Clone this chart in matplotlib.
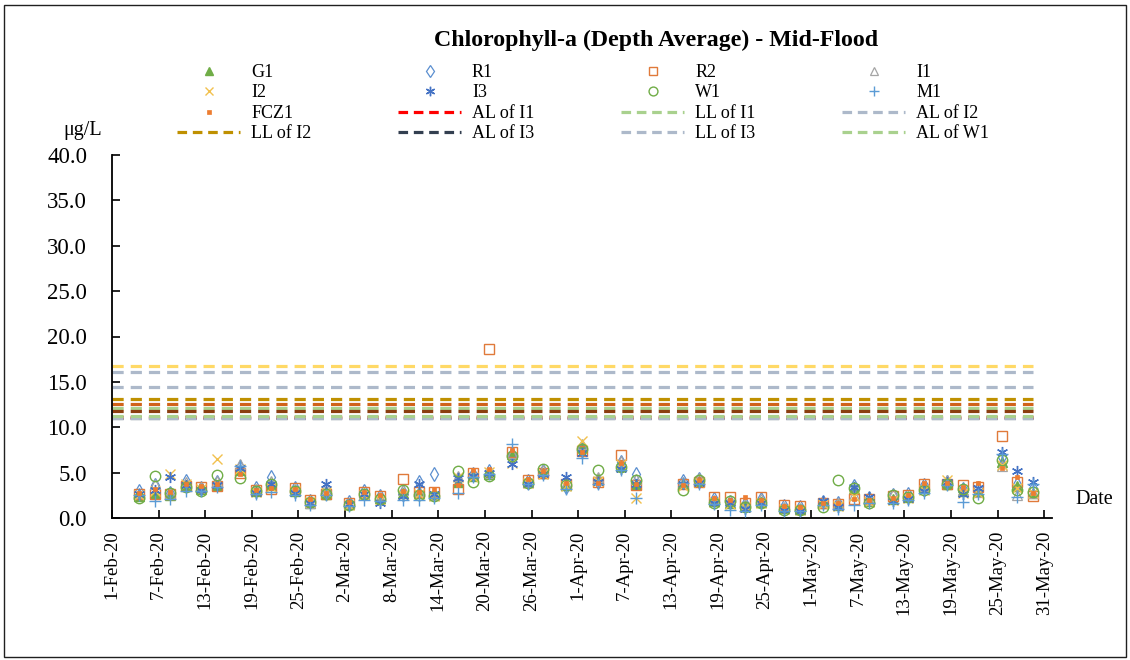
import matplotlib
matplotlib.use('Agg')
import matplotlib.pyplot as plt
import pandas as pd
from matplotlib.lines import Line2D
from matplotlib.patches import Rectangle

plt.rcParams['font.family'] = ['Liberation Serif', 'DejaVu Serif']

# ---------------- data ----------------
sample_dates = [
    "2020-02-04", "2020-02-06", "2020-02-08", "2020-02-10", "2020-02-12", "2020-02-14",
    "2020-02-17", "2020-02-19", "2020-02-21", "2020-02-24", "2020-02-26", "2020-02-28",
    "2020-03-02", "2020-03-04", "2020-03-06", "2020-03-09", "2020-03-11", "2020-03-13",
    "2020-03-16", "2020-03-18", "2020-03-20", "2020-03-23", "2020-03-25", "2020-03-27",
    "2020-03-30", "2020-04-01", "2020-04-03", "2020-04-06", "2020-04-08", "2020-04-14",
    "2020-04-16", "2020-04-18", "2020-04-20", "2020-04-22", "2020-04-24", "2020-04-27",
    "2020-04-29", "2020-05-02", "2020-05-04", "2020-05-06", "2020-05-08", "2020-05-11",
    "2020-05-13", "2020-05-15", "2020-05-18", "2020-05-20", "2020-05-22", "2020-05-25",
    "2020-05-27", "2020-05-29",
]
sample_time = "12:00"

G1 = [2.4, 2.8, 2.5, 3.6, 3.2, 3.6, 5.3, 3.0, 3.6, 3.0, 1.7, 2.6, 1.5, 2.6, 2.2, 2.7, 2.7, 2.6,
      4.0, 4.6, 4.9, 7.0, 4.0, 5.0, 3.6, 7.8, 4.3, 5.7, 3.8, 3.9, 4.1, 1.9, 1.6, 1.3, 1.8, 1.1,
      1.0, 1.6, 1.4, 3.2, 1.9, 2.1, 2.3, 3.3, 3.8, 3.0, 3.0, 6.2, 3.5, 2.8]
R1 = [3.0, 3.6, 2.8, 4.1, 3.3, 4.0, 5.6, 3.3, 4.5, 3.3, 1.9, 2.8, 1.8, 3.0, 2.4, 2.9, 4.0, 4.8,
      4.2, 4.9, 5.2, 7.1, 4.1, 5.2, 3.4, 7.6, 4.0, 6.2, 4.9, 4.1, 4.3, 2.1, 1.8, 1.5, 2.1, 1.3,
      1.2, 1.8, 1.6, 3.5, 2.2, 2.5, 2.6, 3.6, 4.0, 3.2, 3.3, 6.7, 3.7, 3.3]
R2 = [2.6, 2.6, 2.6, 3.5, 3.4, 3.5, 5.0, 3.1, 3.2, 3.3, 2.0, 2.6, 1.6, 2.9, 2.4, 4.3, 2.9, 2.9,
      3.2, 5.0, 18.6, 7.3, 4.2, 5.0, 3.8, 7.4, 4.0, 6.9, 3.6, 3.7, 4.0, 2.3, 2.3, 1.6, 2.3, 1.4,
      1.3, 1.7, 1.5, 2.1, 2.1, 2.4, 2.5, 3.7, 3.8, 3.6, 3.4, 9.0, 4.0, 2.4]
I1 = [2.8, 3.8, 2.7, 4.0, 3.4, 4.1, 6.0, 3.2, 4.1, 3.2, 1.6, 3.4, 1.6, 2.8, 2.3, 3.1, 3.0, 2.5,
      4.6, 4.8, 5.0, 7.2, 4.0, 5.3, 3.7, 8.2, 4.5, 6.3, 4.3, 4.0, 4.4, 2.0, 2.0, 1.5, 2.1, 1.2,
      1.1, 1.8, 1.6, 2.5, 2.0, 2.6, 2.4, 3.5, 4.2, 3.1, 2.9, 5.7, 2.5, 2.7]
I2 = [2.5, 3.0, 4.8, 3.7, 3.2, 6.5, 5.4, 2.9, 3.4, 3.0, 1.8, 2.9, 1.4, 2.5, 2.0, 2.5, 2.6, 2.4,
      4.5, 4.5, 5.1, 6.1, 3.9, 4.9, 3.5, 8.5, 4.1, 5.9, 2.2, 3.5, 4.0, 1.8, 1.5, 1.2, 1.7, 1.0,
      0.9, 1.5, 1.3, 2.4, 1.8, 2.0, 2.2, 3.1, 4.2, 2.8, 2.7, 5.8, 3.3, 2.8]
I3 = [2.6, 3.1, 4.5, 3.6, 3.1, 3.6, 5.5, 2.8, 3.8, 2.8, 1.6, 3.7, 1.5, 2.6, 1.7, 2.4, 3.7, 2.6,
      4.4, 4.6, 5.0, 6.0, 3.8, 4.8, 4.5, 7.2, 4.0, 5.4, 3.7, 3.8, 3.9, 1.6, 1.7, 1.0, 1.6, 0.9,
      0.8, 1.9, 1.2, 3.4, 2.3, 1.9, 2.1, 3.0, 4.0, 2.6, 3.3, 7.3, 5.2, 4.0]
W1 = [2.2, 4.6, 2.7, 3.4, 3.0, 4.7, 4.4, 3.0, 3.8, 3.0, 1.8, 2.6, 1.4, 2.6, 2.1, 3.1, 2.5, 2.4,
      5.2, 4.0, 4.6, 6.8, 3.9, 5.4, 3.6, 7.6, 5.3, 5.6, 4.2, 3.1, 4.2, 1.6, 1.9, 1.2, 1.6, 0.9,
      0.9, 1.2, 4.2, 3.3, 1.7, 2.5, 2.3, 3.1, 3.7, 3.2, 2.2, 6.4, 3.1, 2.9]
M1 = [2.5, 1.9, 2.1, 3.0, 3.0, 3.4, 5.7, 2.6, 2.9, 2.5, 1.4, 2.5, 1.3, 2.0, 1.9, 2.0, 2.0, 2.2,
      2.8, 4.5, 4.8, 8.2, 3.7, 4.7, 3.2, 6.6, 3.8, 5.3, 2.2, 3.9, 3.7, 1.5, 0.9, 0.8, 1.4, 0.8,
      0.8, 1.4, 1.0, 1.4, 1.6, 1.6, 2.0, 2.7, 3.6, 1.8, 2.6, 7.0, 2.3, 3.7]
FCZ1 = [2.7, 3.2, 2.9, 3.8, 3.5, 3.7, 4.8, 3.1, 3.3, 3.2, 2.1, 2.8, 1.8, 2.9, 2.5, 3.0, 2.9, 3.2,
        3.6, 5.3, 5.4, 7.5, 4.3, 5.2, 3.9, 7.3, 3.9, 6.1, 3.8, 3.6, 4.2, 2.2, 2.0, 2.3, 2.0, 1.3,
        1.2, 1.6, 1.7, 2.1, 2.0, 2.2, 2.5, 3.9, 3.9, 3.4, 3.9, 5.5, 4.5, 2.8]

series_names = ["G1", "R1", "R2", "I1", "I2", "I3", "W1", "M1", "FCZ1"]
series_values = [G1, R1, R2, I1, I2, I3, W1, M1, FCZ1]

# limit levels (name, value)
limit_names = ["AL of I3", "AL of I1", "AL of I2", "AL of W1", "LL of I1", "AL of M1",
               "LL of W1", "LL of I2", "LL of I3", "AL of FCZ1", "LL of M1"]
limit_values = [11.05, 11.12, 11.0, 11.2, 12.15, 11.8, 12.55, 13.1, 14.45, 16.05, 16.8]
legend_limits = ["AL of I1", "LL of I1", "AL of I2", "LL of I2", "AL of I3", "LL of I3", "AL of W1"]

axis_start = "2020-02-01"
axis_end = "2020-06-01"
tick_step_days = 6
y_ticks = [0, 5, 10, 15, 20, 25, 30, 35, 40]

# ---------------- styles ----------------
styles = {
    "G1":   dict(marker='^', mfc='#70AD47', mec='#70AD47', ms=6.5, mew=1.0),
    "R1":   dict(marker='d', mfc='none', mec='#5B8FD0', ms=7, mew=0.9),
    "R2":   dict(marker='s', mfc='none', mec='#E07A3A', ms=7, mew=1.0),
    "I1":   dict(marker='^', mfc='none', mec='#A5A5A5', ms=7, mew=0.9),
    "I2":   dict(marker='x', mfc='none', mec='#F2C14E', ms=7, mew=1.0),
    "I3":   dict(marker=(6, 2, 0), mfc='none', mec='#4472C4', ms=8, mew=1.0),
    "W1":   dict(marker='o', mfc='none', mec='#70AD47', ms=7.5, mew=1.0),
    "M1":   dict(marker='+', mfc='none', mec='#5B9BD5', ms=8, mew=1.0),
    "FCZ1": dict(marker='s', mfc='#ED7D31', mec='#ED7D31', ms=3.2, mew=0.5),
}
limit_colors = {
    "AL of I1": '#FF0000', "LL of I1": '#A9D18E', "AL of I2": '#ADB9CA',
    "LL of I2": '#BF9000', "AL of I3": '#333F50', "LL of I3": '#ADB9CA',
    "AL of W1": '#A9D18E', "LL of W1": '#D0631A', "AL of M1": '#8B3E10',
    "LL of M1": '#FFD966', "AL of FCZ1": '#ADB9CA',
}

W, H = 1130, 660
fig = plt.figure(figsize=(W / 100, H / 100), dpi=100)
ax = fig.add_axes([112 / W, 1 - 518 / H, (1052 - 112) / W, (518 - 155) / H])

dates = pd.to_datetime([f"{d} {sample_time}" for d in sample_dates])
x0 = pd.Timestamp(axis_start)
x1 = pd.Timestamp(axis_end)

# limit lines
lw = 2.3
for name, val in zip(limit_names, limit_values):
    ax.plot([x0, dates[-1]], [val, val], color=limit_colors[name], lw=lw,
            linestyle=(0, (3.5, 2.2)), solid_capstyle='butt', zorder=2)

# data series
for name, vals in zip(series_names, series_values):
    st = styles[name]
    ax.plot(dates, vals, linestyle='none', marker=st['marker'], markerfacecolor=st['mfc'],
            markeredgecolor=st['mec'], markersize=st['ms'], markeredgewidth=st['mew'], zorder=3)

ax.set_xlim(x0, x1)
ax.set_ylim(0, 40)
ticks = pd.date_range(axis_start, "2020-05-31", freq=f"{tick_step_days}D")
ax.set_xticks(ticks)
ax.set_xticklabels([f"{t.day}-{t.strftime('%b')}-{t.strftime('%y')}" for t in ticks],
                   rotation=90, fontsize=13.5)
ax.set_yticks(y_ticks)
ax.set_yticklabels([f"{v:.1f}" for v in y_ticks], fontsize=16.5)
ax.tick_params(axis='both', direction='in', length=6, width=1.2, color='black')
ax.tick_params(axis='y', pad=18)
ax.tick_params(axis='x', pad=9)
for s in ['top', 'right']:
    ax.spines[s].set_visible(False)
for s in ['left', 'bottom']:
    ax.spines[s].set_linewidth(1.3)

fig.text(656 / W, 1 - 40 / H, "Chlorophyll-a (Depth Average) - Mid-Flood", ha='center',
         va='center', fontsize=17.2, fontweight='bold')
fig.text(83 / W, 1 - 130 / H, "μg/L", ha='center', va='center', fontsize=14.5)
fig.text(1094 / W, 1 - 500 / H, "Date", ha='center', va='center', fontsize=14.5)

# legend (row-major order -> reorder for column-major fill)
row_major = series_names + legend_limits
handles = {}
for name in series_names:
    st = styles[name]
    handles[name] = Line2D([], [], linestyle='none', marker=st['marker'], markerfacecolor=st['mfc'],
                           markeredgecolor=st['mec'], markersize=st['ms'] * 0.85,
                           markeredgewidth=st['mew'])
for name in legend_limits:
    handles[name] = Line2D([], [], color=limit_colors[name], lw=2.3, linestyle=(0, (3.0, 1.8)))
ncol = 4
nrow = (len(row_major) + ncol - 1) // ncol
order = []
for c in range(ncol):
    for r in range(nrow):
        i = r * ncol + c
        if i < len(row_major):
            order.append(row_major[i])
fig.legend([handles[n] for n in order], order, ncol=ncol, loc='upper left',
           bbox_to_anchor=(177 / W, 1 - 64 / H), frameon=False, fontsize=13,
           handlelength=3.5, handletextpad=0.6, columnspacing=4.8, labelspacing=0.19,
           borderaxespad=0, borderpad=0)

fig.add_artist(Rectangle((4 / W, 3 / H), 1 - 8 / W, 1 - 8 / H, transform=fig.transFigure,
                         fill=False, edgecolor='#202020', lw=1.0))

fig.savefig("out.png", dpi=100)
